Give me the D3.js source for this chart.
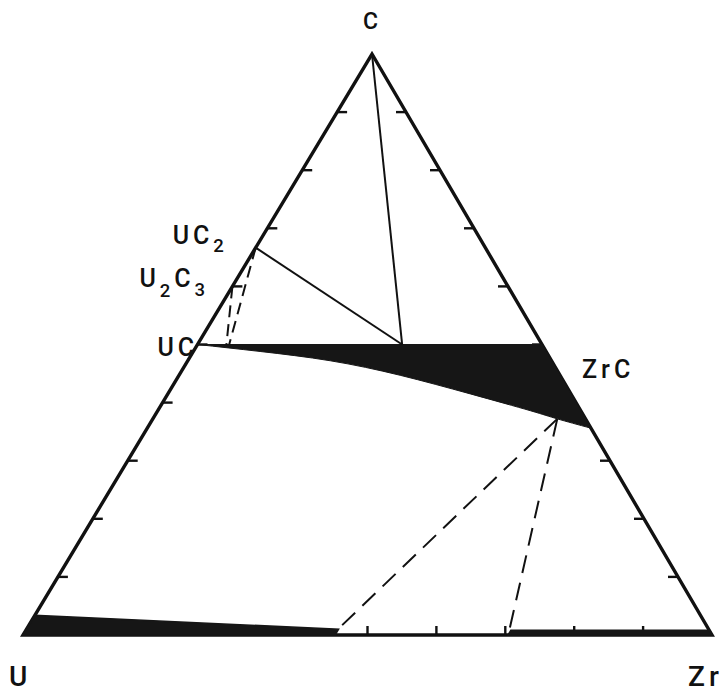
<!DOCTYPE html>
<html>
<head>
<meta charset="utf-8">
<script src="https://cdn.jsdelivr.net/npm/d3@7"></script>
<style>
  html, body { margin: 0; padding: 0; background: #fff; }
  svg { display: block; }
  text { font-family: Roboto, "Liberation Sans", Arial, sans-serif; font-weight: 500; fill: #111; }
</style>
</head>
<body>
<svg id="chart" width="724" height="695"></svg>
<script>
// Ternary diagram U – C – Zr. Compositions are [C fraction, Zr fraction]; U = 1 - C - Zr.

// tick positions (fraction along each side)
const sideTicks = [0.1, 0.2, 0.3, 0.4, 0.5, 0.6, 0.7, 0.8, 0.9];
const baseTicks = [0.5, 0.6, 0.7, 0.8, 0.9];

// (U,Zr)C solid-solution field: upper boundary at 50 at.% C, lower boundary curve
const carbideTop = [[0.5, 0.0], [0.5, 0.5]];
const carbideLower = [
  [0.500, 0.000], [0.488, 0.097], [0.472, 0.207], [0.447, 0.321],
  [0.415, 0.439], [0.386, 0.541], [0.372, 0.587], [0.356, 0.644]
];

// metal-rich solid solutions along the U–Zr edge
const uRichBand  = [[0, 0], [0.034, 0], [0.010, 0.453], [0, 0.453]];
const zrRichBand = [[0, 0.704], [0.008, 0.704], [0.008, 0.992], [0, 1]];

// compound points on the U–C edge
const compounds = { UC2: [2 / 3, 0], U2C3: [0.6, 0], UC: [0.5, 0] };

// tie lines
const solidTies = [
  [[1, 0], [0.5, 0.297]],
  [compounds.UC2, [0.5, 0.297]]
];
const dashedShort = [
  [compounds.UC2, [0.5, 0.046]],
  [compounds.U2C3, [0.5, 0.042]]
];
const dashedLong = [
  [[0.372, 0.587], [0.010, 0.452]],
  [[0.372, 0.587], [0.004, 0.703]]
];

// ---- layout ----
const frameL = 23, frameR = 712, frameB = 635, frameT = 54, apexX = 372;
const x = d3.scaleLinear().domain([0, 1]).range([frameL, frameR]);
const y = d3.scaleLinear().domain([0, 1]).range([frameB, frameT]);
const shift = (apexX - frameL) / (frameR - frameL);
const proj = ([c, z]) => [x(z + c * shift), y(c)];

const svg = d3.select("#chart");
const ink = "#111";

// frame
const pU = proj([0, 0]), pZr = proj([0, 1]), pC = proj([1, 0]);
svg.append("path")
  .attr("d", d3.line()([pU, pZr, pC]) + "Z")
  .attr("fill", "none").attr("stroke", ink)
  .attr("stroke-width", 3.4).attr("stroke-linejoin", "miter");

// ticks
const tl = 10;
sideTicks.forEach(t => {
  const pl = proj([t, 0]);           // U–C side
  svg.append("line").attr("x1", pl[0]).attr("y1", pl[1]).attr("x2", pl[0] + tl).attr("y2", pl[1])
    .attr("stroke", ink).attr("stroke-width", 2.4);
  const pr = proj([t, 1 - t]);       // Zr–C side
  svg.append("line").attr("x1", pr[0]).attr("y1", pr[1]).attr("x2", pr[0] - tl).attr("y2", pr[1])
    .attr("stroke", ink).attr("stroke-width", 2.4);
});
baseTicks.forEach(t => {
  const pb = proj([0, t]);
  svg.append("line").attr("x1", pb[0]).attr("y1", pb[1]).attr("x2", pb[0]).attr("y2", pb[1] - 9)
    .attr("stroke", ink).attr("stroke-width", 2.4);
});

// carbide field
const curve = d3.line().curve(d3.curveNatural)(carbideLower.map(proj));
const topEnd = proj(carbideTop[1]);
svg.append("path")
  .attr("d", curve + "L" + topEnd[0] + "," + topEnd[1] + "Z")
  .attr("fill", "#161616").attr("stroke", "#161616").attr("stroke-width", 1);

// metal bands
[uRichBand, zrRichBand].forEach(b => {
  svg.append("path").attr("d", d3.line()(b.map(proj)) + "Z")
    .attr("fill", "#161616").attr("stroke", "#161616").attr("stroke-width", 1.5);
});

// tie lines
solidTies.forEach(s => {
  svg.append("path").attr("d", d3.line()(s.map(proj)))
    .attr("stroke", ink).attr("stroke-width", 2).attr("fill", "none");
});
dashedShort.forEach(s => {
  svg.append("path").attr("d", d3.line()(s.map(proj)))
    .attr("stroke", ink).attr("stroke-width", 2).attr("fill", "none")
    .attr("stroke-dasharray", "12,7");
});
dashedLong.forEach(s => {
  svg.append("path").attr("d", d3.line()(s.map(proj)))
    .attr("stroke", ink).attr("stroke-width", 2).attr("fill", "none")
    .attr("stroke-dasharray", "18,10");
});

// labels
function label(tx, ty, parts, size) {
  const t = svg.append("text").attr("x", tx).attr("y", ty)
    .attr("font-size", size).attr("letter-spacing", 4);
  parts.forEach(p => {
    const s = t.append("tspan").text(p.t);
    if (p.sub) s.attr("font-size", size * 0.74).attr("dy", p.dy);
    else if (p.dy) s.attr("dy", p.dy);
  });
}
label(pC[0] - 9, pC[1] - 25, [{ t: "C" }], 23);
label(pU[0] - 14, pU[1] + 51, [{ t: "U" }], 28);
label(pZr[0] - 24, pZr[1] + 51, [{ t: "Zr" }], 28);

const pUC2 = proj(compounds.UC2), pU2C3 = proj(compounds.U2C3), pUC = proj(compounds.UC);
label(pUC2[0] - 83, pUC2[1] - 4, [{ t: "UC" }, { t: "2", sub: true, dy: 8 }], 25);
label(pU2C3[0] - 93, pU2C3[1] + 1, [{ t: "U" }, { t: "2", sub: true, dy: 10 }, { t: "C", dy: -10 }, { t: "3", sub: true, dy: 9 }], 25);
label(pUC[0] - 40, pUC[1] + 11, [{ t: "UC" }], 25);
const pZrC = proj([0.5, 0.5]);
label(pZrC[0] + 40, pZrC[1] + 33, [{ t: "ZrC" }], 25);
</script>
</body>
</html>
